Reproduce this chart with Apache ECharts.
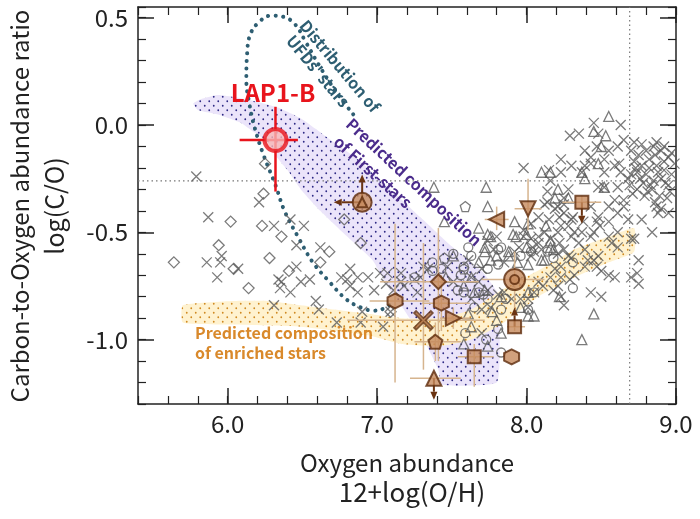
<!DOCTYPE html>
<html>
<head>
<meta charset="utf-8">
<script src="https://cdn.jsdelivr.net/npm/echarts@6/dist/echarts.min.js"></script>
<style>
  html, body { margin: 0; padding: 0; background: #fff; }
  #chart { width: 700px; height: 519px; }
</style>
</head>
<body>
<div id="chart"></div>
<script>
// axis ranges and solar reference values
var xMin = 5.4, xMax = 9.0;
var yMin = -1.3, yMax = 0.55;
var xMajor = [6, 7, 8, 9];
var yMajor = [-1, -0.5, 0, 0.5];
var solarCO = -0.26;
var solarOH = 8.69;

// predicted composition of first stars (band outline)
var firstStarsBand = [[5.77,0.10],[5.82,0.12],[5.93,0.14],[6.05,0.13],[6.19,0.11],[6.34,0.08],[6.49,0.03],[6.69,-0.07],[6.87,-0.16],[7.09,-0.30],[7.29,-0.43],[7.49,-0.56],[7.70,-0.68],[7.81,-0.79],[7.82,-1.00],[7.80,-1.20],[7.43,-1.21],[7.41,-1.14],[7.31,-1.00],[7.16,-0.84],[7.06,-0.74],[6.97,-0.63],[6.80,-0.52],[6.62,-0.40],[6.49,-0.30],[6.40,-0.21],[6.33,-0.15],[6.27,-0.08],[6.17,-0.03],[6.09,0.01],[5.93,0.05],[5.80,0.07]];

// predicted composition of enriched stars (band outline)
var enrichedBand = [[5.70,-0.84],[6.04,-0.82],[6.27,-0.82],[6.49,-0.84],[6.71,-0.86],[6.94,-0.88],[7.16,-0.90],[7.43,-0.90],[7.63,-0.86],[7.83,-0.77],[8.10,-0.67],[8.32,-0.58],[8.55,-0.52],[8.72,-0.48],[8.72,-0.59],[8.55,-0.64],[8.32,-0.71],[8.10,-0.79],[7.83,-0.93],[7.63,-1.00],[7.43,-1.03],[7.16,-1.02],[6.94,-0.98],[6.49,-0.94],[6.04,-0.93],[5.70,-0.92]];

// distribution of UFD stars (contour)
var ufdContour = [[6.84,0.05],[6.72,0.16],[6.61,0.28],[6.52,0.39],[6.45,0.47],[6.37,0.505],[6.29,0.51],[6.21,0.48],[6.15,0.42],[6.13,0.33],[6.125,0.21],[6.145,0.10],[6.18,-0.01],[6.24,-0.14],[6.32,-0.28],[6.38,-0.40],[6.47,-0.52],[6.57,-0.64],[6.68,-0.73],[6.79,-0.81],[6.89,-0.85],[6.98,-0.865],[7.06,-0.85],[7.11,-0.82]];

// stars (grey open symbols)
var starCross = [[5.79,-0.24],[6.21,-0.36],[5.87,-0.43],[6.31,-0.47],[6.42,-0.44],[6.51,-0.47],[6.46,-0.56],[6.62,-0.57],[5.86,-0.64],[5.96,-0.61],[5.95,-0.64],[6.07,-0.67],[5.93,-0.71],[6.46,-0.66],[6.34,-0.72],[6.36,-0.73],[6.49,-0.73],[6.55,-0.72],[6.35,-0.76],[6.42,-0.78],[6.59,-0.82],[6.61,-0.86],[6.31,-0.84],[6.73,-0.92],
[6.82,-0.67],[6.76,-0.71],[6.80,-0.72],[6.87,-0.71],[6.94,-0.71],[6.82,-0.75],[6.87,-0.78],[6.90,-0.87],[7.04,-0.94],[6.98,-0.77],[7.02,-0.69],[7.06,-0.74],[7.11,-0.77],[7.16,-0.69],[6.89,-0.92],[7.09,-0.87],[7.18,-0.75],[7.27,-0.78],[7.29,-0.71],[7.25,-0.72],[7.34,-0.67],[7.63,-0.71],
[7.98,-0.20],[8.15,-0.21],[8.23,-0.16],[8.29,-0.05],[8.35,-0.04],[8.45,0.01],[8.63,0.00],[8.48,-0.04],[8.39,-0.12],[8.47,-0.10],[8.55,-0.12],[8.61,-0.10],[8.62,-0.18],[8.65,-0.07],[8.72,-0.08],[8.23,-0.22],[8.30,-0.19],[8.14,-0.31],[8.16,-0.26],[8.25,-0.34],[8.37,-0.22],[8.39,-0.19],[8.43,-0.18],[8.43,-0.15],[8.52,-0.16],[8.52,-0.22],[8.52,-0.29],[8.48,-0.29],[8.59,-0.19],[8.63,-0.22],[8.61,-0.29],[8.68,-0.25],[8.65,-0.35],[8.14,-0.36],[8.08,-0.43],[8.15,-0.44],[7.98,-0.49],[7.98,-0.52],[8.03,-0.53],[7.95,-0.57],[8.08,-0.55],[8.12,-0.50],[8.25,-0.41],[8.30,-0.44],[8.32,-0.50],[8.43,-0.38],[8.48,-0.43],[8.55,-0.38],[8.55,-0.45],[8.59,-0.35],[8.61,-0.41],[8.65,-0.38],[8.68,-0.44],[8.61,-0.50],[8.72,-0.53],[8.77,-0.44],[8.84,-0.50],[8.86,-0.36],[8.90,-0.39],[8.92,-0.10],[8.97,-0.13],
[8.70,-0.12],[8.75,-0.14],[8.80,-0.12],[8.85,-0.10],[8.90,-0.12],[8.95,-0.15],[8.72,-0.17],[8.77,-0.19],[8.82,-0.16],[8.87,-0.19],[8.92,-0.21],[8.70,-0.23],[8.76,-0.25],[8.80,-0.23],[8.85,-0.26],[8.90,-0.25],[8.95,-0.28],[8.74,-0.30],[8.79,-0.33],[8.84,-0.30],[8.89,-0.33],[8.94,-0.34],[8.77,-0.09],[8.87,-0.08],[8.69,-0.28],[8.82,-0.20],[8.74,-0.22],[8.92,-0.17],[8.99,-0.18],[8.73,-0.20],[8.78,-0.27],[8.83,-0.28],[8.88,-0.22],[8.93,-0.27],[8.97,-0.23],[8.86,-0.14],[8.81,-0.31],[8.71,-0.32],[8.96,-0.31],
[8.28,-0.30],[8.21,-0.38],[8.22,-0.43],[8.31,-0.43],[8.28,-0.47],[8.38,-0.45],[8.37,-0.50],[8.43,-0.52],[8.30,-0.52],[8.08,-0.52],[8.04,-0.57],[8.22,-0.55],
[8.70,-0.71],[8.74,-0.69],[8.75,-0.74],[8.59,-0.71],[8.55,-0.70],[8.43,-0.78],[8.50,-0.80],
[8.47,-0.45],[8.49,-0.47],[8.45,-0.50],[8.55,-0.52],[8.57,-0.55],[8.61,-0.57],[8.70,-0.53],[8.87,-0.38],[8.88,-0.41],[8.95,-0.41],[8.75,-0.63],
[8.16,-0.53],[8.28,-0.61],[8.35,-0.55],[8.39,-0.58],[8.41,-0.63],[8.47,-0.66],[8.48,-0.61],[8.23,-0.66],[8.16,-0.71],[8.21,-0.75],[8.25,-0.84],[8.29,-0.72],[8.11,-0.75],
[8.12,-0.37],[8.19,-0.39],[8.25,-0.37],[8.03,-0.46],[8.21,-0.50],[8.23,-0.47],[7.74,-0.54],
[8.10,-0.58],[8.03,-0.61],[8.21,-0.60],[8.25,-0.58],[8.30,-0.62],[8.19,-0.67],[8.23,-0.71],[8.32,-0.70],[8.18,-0.77],[8.23,-0.80],[8.39,-0.66],[8.45,-0.63],[8.50,-0.68],[8.08,-0.73],[8.05,-0.78],[8.01,-0.81],
[7.47,-0.66],[7.51,-0.73],[7.68,-0.73],[7.74,-0.77],[7.81,-0.79],[7.85,-0.78],[7.63,-0.81],[7.70,-0.86],[7.76,-0.85],[7.70,-0.97],[7.94,-0.73],
[7.80,-0.52],[7.78,-0.58],[7.92,-0.59],[8.05,-0.59],[7.61,-0.63],[7.70,-0.67],[7.85,-0.64],[7.90,-0.81],[7.96,-0.81],[8.01,-0.85],
[7.07,-0.69],[7.16,-0.73],[7.31,-0.66]];

var starTriangle = [[7.38,-0.29],[7.73,-0.29],[7.74,-0.38],[7.92,-0.45],[7.68,-0.48],[7.74,-0.51],[8.10,-0.22],[8.55,0.04],[8.45,-0.03],[8.53,-0.05],[8.50,-0.10],[8.16,-0.22],[8.21,-0.30],[8.19,-0.34],[8.28,-0.34],[8.39,-0.25],[8.37,-0.22],[8.48,-0.18],[8.52,-0.29],[8.13,-0.47],[7.93,-0.52],[8.00,-0.57],[8.16,-0.54],[7.88,-0.61],[8.45,-0.88],[8.37,-1.00],[8.22,-0.80],[8.18,-0.58],[8.10,-0.63],
[7.45,-0.45],[7.51,-0.61],[7.65,-0.78],[7.72,-0.57],[7.80,-0.61],[7.94,-0.64],[8.01,-0.65],[8.12,-0.63],[8.16,-0.57],[8.01,-0.46],[7.76,-0.52],[8.01,-0.89],[7.96,-0.85],[7.46,-0.71],[7.83,-0.80],[7.61,-0.88],[7.77,-0.87],[7.80,-0.91],[7.83,-0.97],[7.74,-1.03],[7.63,-0.94],[7.58,-1.02],[7.91,-0.51],[8.00,-0.51],[7.72,-0.59],[7.88,-0.59],[7.68,-0.64],[7.76,-0.63],[7.63,-0.71],[7.58,-0.75],[7.72,-0.77],[8.01,-0.78],[8.05,-0.89]];

var starDiamond = [[6.25,-0.18],[6.24,-0.32],[6.02,-0.45],[6.23,-0.47],[6.36,-0.52],[5.94,-0.56],[6.68,-0.59],[5.64,-0.64],[6.28,-0.62],[6.62,-0.64],[6.04,-0.67],[6.41,-0.68],[6.14,-0.76],[6.78,-0.44],[6.89,-0.55],[7.09,-0.87]];

var starCircle = [[7.61,-0.57],[7.63,-0.61],[7.81,-0.58],[7.81,-0.65],[7.74,-0.67],[8.03,-0.59],[8.14,-0.59],[8.18,-0.62],[8.31,-0.64],[8.31,-0.76],[7.37,-0.68],[7.43,-0.67],[7.58,-0.78],[7.71,-0.79],[7.86,-0.81],[7.65,-0.85],[7.83,-0.86],[7.81,-0.95],[7.83,-1.06],[7.73,-1.00],[7.59,-0.97],[7.51,-0.60],[7.58,-0.66],[7.56,-0.70],[7.54,-0.77],[7.68,-0.78],[7.74,-0.81],[8.05,-0.78],[7.25,-0.71],[7.37,-0.64],[7.96,-0.61],[7.83,-0.57],[8.01,-0.86]];

var starPentagon = [[7.59,-0.38],[7.58,-0.67],[7.45,-0.62]];

// galaxies (brown symbols)
var galCircledTri = [[6.90,-0.36]];
var galTriLeft = [[7.80,-0.44]];
var galTriDown = [[8.01,-0.39]];
var galTriRight = [[7.51,-0.90]];
var galTriUp = [[7.38,-1.18]];
var galSquare = [[8.37,-0.36],[7.92,-0.94],[7.65,-1.08]];
var galHexagon = [[7.12,-0.82],[7.43,-0.83],[7.90,-1.08]];
var galPentagon = [[7.39,-1.01]];
var galDiamond = [[7.41,-0.73]];
var galCross = [[7.31,-0.91]];
var galBullseye = [[7.92,-0.72]];

// error bars: x, y, xLow, xHigh, yLow, yHigh
var galErrors = [
  [7.80,-0.44, 7.72,7.88, -0.49,-0.38],
  [8.01,-0.39, 7.92,8.10, -0.49,-0.25],
  [8.37,-0.36, 8.24,8.50, -0.39,-0.33],
  [7.92,-0.72, 7.70,8.12, -0.86,-0.59],
  [7.92,-0.94, 7.87,7.99, -0.96,-0.92],
  [7.65,-1.08, 7.54,7.78, -1.22,-1.02],
  [7.41,-0.73, 7.02,7.68, -1.10,-0.48],
  [7.12,-0.82, 6.95,7.35, -1.20,-0.46],
  [7.43,-0.83, 7.30,7.62, -0.96,-0.70],
  [7.31,-0.91, 6.80,7.72, -1.14,-0.55],
  [7.51,-0.90, 7.42,7.62, -0.95,-0.85],
  [7.39,-1.01, 7.25,7.56, -1.10,-0.92],
  [7.38,-1.18, 7.22,7.56, -1.18,-1.18]
];
// limits: from x, y to x, y
var galLimits = [
  [6.90,-0.36, 6.90,-0.23],
  [6.90,-0.36, 6.71,-0.36],
  [8.37,-0.36, 8.37,-0.46],
  [7.92,-0.94, 7.92,-0.85],
  [7.38,-1.18, 7.38,-1.28]
];

// LAP1-B
var lap1b = [[6.32,-0.07]];
var lap1bErr = [[6.32,-0.07, 6.08,6.47, -0.31,0.085]];

var font = 'Noto Sans CJK JP';
var brownFill = '#c68a5c', brownLine = '#5c2b0b';
var greyLine = '#5a5a5a';

var crossPath = 'path://M0,0L10,10M10,0L0,10';
var pentaPath = 'path://M5,0L10,3.8L8.1,10L1.9,10L0,3.8Z';
var hexaPath = 'path://M5,0L9.33,2.5L9.33,7.5L5,10L0.67,7.5L0.67,2.5Z';

function dots(bg, dot, size, r) {
  var c = document.createElement('canvas');
  c.width = c.height = size;
  var g = c.getContext('2d');
  g.fillStyle = bg;
  g.fillRect(0, 0, size, size);
  g.fillStyle = dot;
  g.beginPath();
  g.arc(size / 4, size / 4, r, 0, Math.PI * 2);
  g.arc(size * 3 / 4, size * 3 / 4, r, 0, Math.PI * 2);
  g.fill();
  return { image: c, repeat: 'repeat' };
}

function band(pts, fill) {
  return {
    type: 'custom', silent: true, z: 1, data: [[0, 0]],
    renderItem: function (params, api) {
      return { type: 'polygon', shape: { points: pts.map(function (p) { return api.coord(p); }), smooth: 0.15 }, style: { fill: fill } };
    }
  };
}

function errBars(data, color, width, z) {
  return {
    type: 'custom', silent: true, z: z, data: data,
    encode: { x: 0, y: 1 },
    renderItem: function (params, api) {
      var x = api.value(0), y = api.value(1);
      var a = api.coord([api.value(2), y]), b = api.coord([api.value(3), y]);
      var c = api.coord([x, api.value(4)]), d = api.coord([x, api.value(5)]);
      var st = { stroke: color, lineWidth: width };
      return { type: 'group', children: [
        { type: 'line', shape: { x1: a[0], y1: a[1], x2: b[0], y2: b[1] }, style: st },
        { type: 'line', shape: { x1: c[0], y1: c[1], x2: d[0], y2: d[1] }, style: st }
      ] };
    }
  };
}

function arrows(data) {
  return {
    type: 'custom', silent: true, z: 4, data: data,
    encode: { x: 0, y: 1 },
    renderItem: function (params, api) {
      var p = api.coord([api.value(0), api.value(1)]);
      var q = api.coord([api.value(2), api.value(3)]);
      var dx = q[0] - p[0], dy = q[1] - p[1];
      var len = Math.sqrt(dx * dx + dy * dy);
      var ux = dx / len, uy = dy / len;
      var h = 8, w = 3.5;
      var bx = q[0] - ux * h, by = q[1] - uy * h;
      return { type: 'group', children: [
        { type: 'line', shape: { x1: p[0], y1: p[1], x2: bx, y2: by }, style: { stroke: '#6b3412', lineWidth: 2 } },
        { type: 'polygon', shape: { points: [q, [bx - uy * w, by + ux * w], [bx + uy * w, by - ux * w]] }, style: { fill: '#6b3412' } }
      ] };
    }
  };
}

function grey(data, symbol, size) {
  return {
    type: 'scatter', silent: true, z: 3, data: data, symbol: symbol, symbolSize: size,
    itemStyle: { color: 'none', borderColor: greyLine, borderWidth: 1.3 }
  };
}

function brown(data, symbol, size, rotate) {
  return {
    type: 'scatter', silent: true, z: 6, data: data, symbol: symbol, symbolSize: size,
    symbolRotate: rotate || 0,
    itemStyle: { color: brownFill, borderColor: brownLine, borderWidth: 2 }
  };
}

function xAxisDef(position, major, label) {
  return {
    type: 'value', position: position, min: xMin, max: xMax, interval: 0.2,
    axisLine: { show: !major, onZero: false, lineStyle: { color: '#222', width: 1.5 } },
    axisTick: major
      ? { show: true, inside: true, length: 16, customValues: xMajor, lineStyle: { color: '#222', width: 1.5 } }
      : { show: true, inside: true, length: 8, lineStyle: { color: '#222', width: 1.2 } },
    axisLabel: label ? {
      show: true, color: '#222', fontFamily: font, fontSize: 24, margin: 8,
      formatter: function (v) { return Math.abs(v - Math.round(v)) < 1e-6 ? v.toFixed(1) : ''; }
    } : { show: false },
    splitLine: { show: false }
  };
}

function yAxisDef(position, major, label) {
  return {
    type: 'value', position: position, min: yMin, max: yMax, interval: 0.1,
    axisLine: { show: !major, onZero: false, lineStyle: { color: '#222', width: 1.5 } },
    axisTick: major
      ? { show: true, inside: true, length: 16, customValues: yMajor, lineStyle: { color: '#222', width: 1.5 } }
      : { show: true, inside: true, length: 8, lineStyle: { color: '#222', width: 1.2 } },
    axisLabel: label ? {
      show: true, color: '#222', fontFamily: font, fontSize: 24, margin: 10,
      formatter: function (v) { return Math.abs(v * 2 - Math.round(v * 2)) < 1e-6 ? v.toFixed(1) : ''; }
    } : { show: false },
    splitLine: { show: false }
  };
}

function note(text, x, y, deg, size, color, align) {
  return {
    type: 'text', x: x, y: y, rotation: -deg * Math.PI / 180, z: 100, silent: true,
    style: { text: text, x: 0, y: 0, align: align || 'center', verticalAlign: 'middle',
      fontFamily: font, fontWeight: 'bold', fontSize: size, fill: color }
  };
}

function title(text, x, y, rot, size) {
  return {
    type: 'text', x: x, y: y, rotation: rot, z: 100, silent: true,
    style: { text: text, x: 0, y: 0, align: 'center', verticalAlign: 'middle',
      fontFamily: font, fontSize: size, fill: '#222' }
  };
}

var chart = echarts.init(document.getElementById('chart'));

var option = {
  animation: false,
  backgroundColor: '#fff',
  grid: { left: 138, right: 24, top: 7, bottom: 115, containLabel: false, outerBoundsMode: 'none' },
  xAxis: [xAxisDef('bottom', false, true), xAxisDef('bottom', true, false), xAxisDef('top', false, false), xAxisDef('top', true, false)],
  yAxis: [yAxisDef('left', false, true), yAxisDef('left', true, false), yAxisDef('right', false, false), yAxisDef('right', true, false)],
  series: [
    band(firstStarsBand, dots('#ebe4fa', '#2e2a85', 9, 0.9)),
    band(enrichedBand, dots('#fff2cf', '#cf8a22', 9, 0.9)),
    {
      type: 'line', silent: true, z: 2, symbol: 'none', data: [[xMin, solarCO], [xMax, solarCO]],
      lineStyle: { color: '#777', width: 1.2, type: [1.5, 3] }
    },
    {
      type: 'line', silent: true, z: 2, symbol: 'none', data: [[solarOH, yMin], [solarOH, yMax]],
      lineStyle: { color: '#777', width: 1.2, type: [1.5, 3] }
    },
    {
      type: 'line', silent: true, z: 2, symbol: 'none', smooth: 0.4, data: ufdContour,
      lineStyle: { color: '#2e5e72', width: 4, type: [0.1, 7.5], cap: 'round' }
    },
    grey(starDiamond, 'diamond', 11),
    grey(starCircle, 'circle', 9),
    grey(starPentagon, pentaPath, 10),
    grey(starTriangle, 'triangle', 10),
    grey(starCross, crossPath, 10),
    errBars(galErrors, '#d6b48e', 1.5, 4),
    arrows(galLimits),
    brown(galCircledTri, 'circle', 19),
    brown(galCircledTri, 'triangle', 10),
    brown(galTriLeft, 'triangle', 15, 90),
    brown(galTriDown, 'triangle', 15, 180),
    brown(galTriRight, 'triangle', 15, -90),
    brown(galTriUp, 'triangle', 15),
    brown(galSquare, 'rect', 13),
    brown(galHexagon, hexaPath, 15),
    brown(galPentagon, pentaPath, 14),
    brown(galDiamond, 'diamond', 15),
    brown(galBullseye, 'circle', 21),
    brown(galBullseye, 'circle', 9),
    {
      type: 'scatter', silent: true, z: 6, data: galCross, symbol: crossPath, symbolSize: 18,
      itemStyle: { color: 'none', borderColor: brownLine, borderWidth: 4.5 }
    },
    {
      type: 'scatter', silent: true, z: 7, data: galCross, symbol: crossPath, symbolSize: 15,
      itemStyle: { color: 'none', borderColor: brownFill, borderWidth: 1.5 }
    },
    errBars(lap1bErr, '#e8141c', 2.5, 8),
    {
      type: 'scatter', silent: true, z: 9, data: lap1b, symbol: 'circle', symbolSize: 22,
      itemStyle: { color: '#f8b5b5', borderColor: '#e8141c', borderWidth: 4 }
    }
  ],
  graphic: [
    note('LAP1-B', 273, 93, 0, 24, '#e8141c'),
    note('Distribution of', 340, 66, 50, 16, '#2e5e72'),
    note("UFDs' stars", 318, 71, 50, 16, '#2e5e72'),
    note('Predicted composition', 414, 182, 43, 16, '#4b2c8c'),
    note('of First-stars', 373, 172, 42, 16, '#4b2c8c'),
    note('Predicted composition', 195, 333, 0, 16, '#d9892b', 'left'),
    note('of enriched stars', 195, 353, 0, 16, '#d9892b', 'left'),
    title('Oxygen abundance', 407, 463, 0, 24),
    title('12+log(O/H)', 412, 492, 0, 26),
    title('Carbon-to-Oxygen abundance ratio', 20, 206, Math.PI / 2, 24),
    title('log(C/O)', 54, 206, Math.PI / 2, 25)
  ]
};

chart.setOption(option);
</script>
</body>
</html>
